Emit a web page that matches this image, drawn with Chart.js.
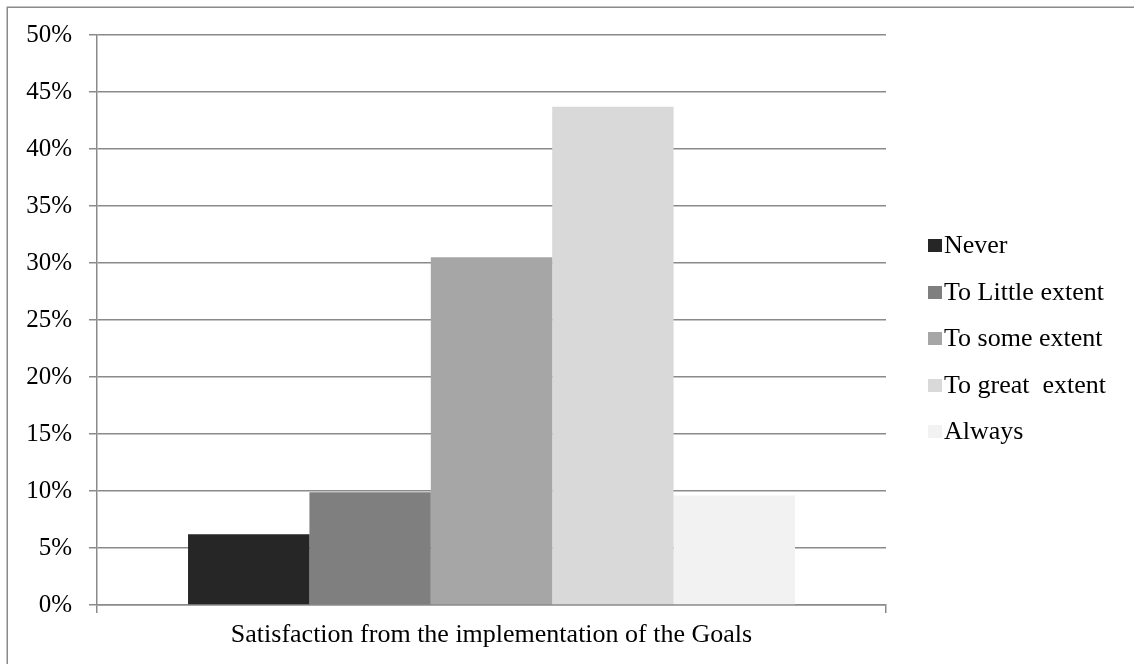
<!DOCTYPE html>
<html lang="en">
<head>
<meta charset="utf-8">
<title>Satisfaction from the implementation of the Goals</title>
<script src="https://cdn.jsdelivr.net/npm/chart.js@4.4.1/dist/chart.umd.min.js"></script>
<style>
    html, body { margin: 0; padding: 0; background: #fff; }
    #chartWrap { position: relative; width: 1134px; height: 664px; }
</style>
</head>
<body>
<div id="chartWrap"><canvas id="cnvGoals" width="1134" height="664"></canvas></div>
<script>
(function (window, document) {
    "use strict";

    // ---- data ----
    const categories = ["Satisfaction from the implementation of the Goals"];
    const seriesNames = ["Never", "To Little extent", "To some extent", "To great  extent", "Always"];
    const seriesValues = [6.2, 9.9, 30.5, 43.7, 9.6]; // percent of respondents
    const seriesColors = ["#262626", "#7f7f7f", "#a6a6a6", "#d9d9d9", "#f2f2f2"];
    const yTicks = { min: 0, max: 50, step: 5 };

    const FAMILY = "'Liberation Serif', 'Times New Roman', serif";
    const FONT = { family: FAMILY, size: 25 };
    const FONT_WIDE = { family: FAMILY, size: 26 }; // category label + legend
    const LINE = "#8a8a8a";

    // plot box edges (px)
    const BOX = { left: 97, right: 886, top: 35, bottom: 605 };

    // white page + thin frame around the whole chart
    const framePlugin = {
        id: "frame",
        beforeDraw(chart) {
            const ctx = chart.ctx;
            ctx.save();
            ctx.fillStyle = "#fff";
            ctx.fillRect(0, 0, chart.width, chart.height);
            ctx.strokeStyle = LINE;
            ctx.lineWidth = 1.5;
            ctx.strokeRect(7.25, 7.25, chart.width + 20, chart.height + 20);
            ctx.restore();
        }
    };

    // vertical legend on the right, square swatch + label
    const legendPlugin = {
        id: "sideLegend",
        afterDraw(chart) {
            const ctx = chart.ctx;
            const x0 = 928, y0 = 245.5, gap = 46.5;
            ctx.save();
            ctx.font = `${FONT_WIDE.size}px ${FONT_WIDE.family}`;
            ctx.textAlign = "left";
            ctx.textBaseline = "middle";
            chart.data.datasets.forEach((ds, i) => {
                const cy = y0 + i * gap;
                ctx.fillStyle = ds.backgroundColor;
                ctx.fillRect(x0, Math.round(cy - 6.5), 14, 13);
                ctx.fillStyle = "#000";
                ctx.fillText(ds.label, x0 + 16, cy + 1);
            });
            ctx.restore();
        }
    };

    function buildDatasets() {
        return seriesNames.map((name, i) => ({
            label: name,
            data: [seriesValues[i]],
            backgroundColor: seriesColors[i],
            borderWidth: 0,
            categoryPercentage: 5 / 6.5,
            barPercentage: 1
        }));
    }

    function init() {
        const canvas = document.getElementById("cnvGoals");
        if (!canvas || typeof Chart === "undefined") return;

        Chart.defaults.font.family = FAMILY;
        Chart.defaults.font.size = FONT.size;
        Chart.defaults.color = "#000";

        new Chart(canvas.getContext("2d"), {
            type: "bar",
            data: { labels: categories, datasets: buildDatasets() },
            options: {
                responsive: false,
                animation: false,
                layout: {
                    padding: { left: 0, top: BOX.top, right: 1134 - BOX.right, bottom: 0 }
                },
                plugins: {
                    legend: { display: false },
                    tooltip: { enabled: false }
                },
                scales: {
                    x: {
                        offset: true,
                        grid: {
                            offset: true,
                            drawOnChartArea: false,
                            drawTicks: true,
                            tickLength: 8,
                            color: LINE,
                            lineWidth: 1.5
                        },
                        border: { display: true, color: LINE, width: 1.5 },
                        ticks: { padding: 7, maxRotation: 0, font: FONT_WIDE },
                        afterFit(scale) { scale.height = 664 - BOX.bottom; }
                    },
                    y: {
                        min: yTicks.min,
                        max: yTicks.max,
                        grid: {
                            color: LINE,
                            lineWidth: 1.5,
                            drawTicks: true,
                            tickLength: 8
                        },
                        border: { display: true, color: LINE, width: 1.5 },
                        ticks: {
                            stepSize: yTicks.step,
                            padding: 17,
                            font: FONT,
                            callback: (v) => `${v}%`
                        },
                        afterFit(scale) { scale.width = BOX.left; }
                    }
                }
            },
            plugins: [framePlugin, legendPlugin]
        });
    }

    init();

})(window, document);
</script>
</body>
</html>
